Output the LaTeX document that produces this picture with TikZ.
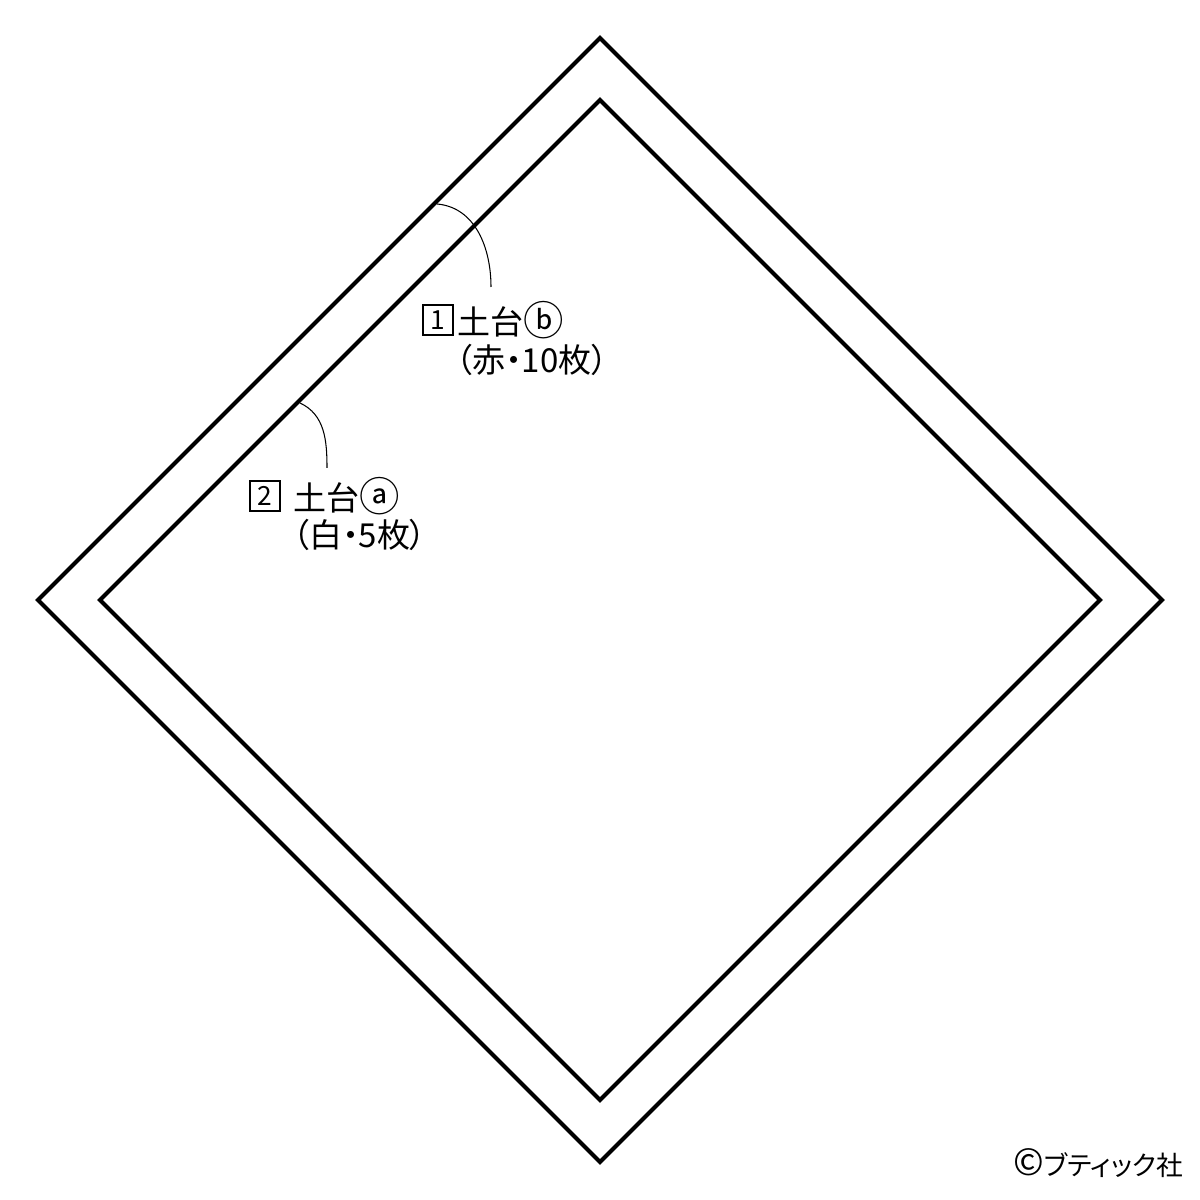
\documentclass[tikz,border=0pt]{standalone}
\usepackage{fontspec}
\newfontfamily\jp{Noto Sans CJK JP}[RawFeature=+palt]
\usetikzlibrary{positioning}
\newcommand{\bigc}[1]{{\fontsize{11.5}{12}\selectfont\raisebox{-0.3pt}{#1}}}

\begin{document}
\begin{tikzpicture}[scale=1,
    jptext/.style={font=\jp\fontsize{9.4}{12}\selectfont, inner sep=0pt, anchor=west},
    numbox/.style={draw, line width=0.5pt, minimum size=3mm, inner sep=0pt, anchor=west, font=\jp\fontsize{7.5}{9}\selectfont},
    leader/.style={line width=0.3pt}]
    \useasboundingbox (0,0) rectangle (12,12);
    % outer and inner squares
    \draw[line width=1.15pt] (6,11.62) -- (11.62,6) -- (6,0.38) -- (0.38,6) -- cycle;
    \draw[line width=1.15pt] (6,11) -- (11,6) -- (6,1) -- (1,6) -- cycle;
    % labels
    \node[numbox] (box1) at (4.22,8.80) {1};
    \node[jptext, right=0.3mm of box1] (lab1) {土台\bigc{ⓑ}};
    \node[jptext] (lab1b) at (4.55,8.40) {（赤・10枚）};
    \node[numbox] (box2) at (2.49,7.04) {2};
    \node[jptext, right=1.2mm of box2] (lab2) {土台\bigc{ⓐ}};
    \node[jptext] (lab2b) at (2.92,6.65) {（白・5枚）};
    % leaders
    \coordinate (s1) at (4.37,9.96);
    \coordinate (e1) at (4.91,9.13);
    \coordinate (s2) at (3.00,7.97);
    \coordinate (e2) at (3.27,7.32);
    \draw[leader] (s1) to[out=-5,in=90] (e1);
    \draw[leader] (s2) to[out=-25,in=90] (e2);
    \node[jptext, font=\jp\fontsize{7.6}{10}\selectfont] (copy) at (10.13,0.37) {{\fontsize{10.5}{10}\selectfont ©}ブティック社};
\end{tikzpicture}
\end{document}
